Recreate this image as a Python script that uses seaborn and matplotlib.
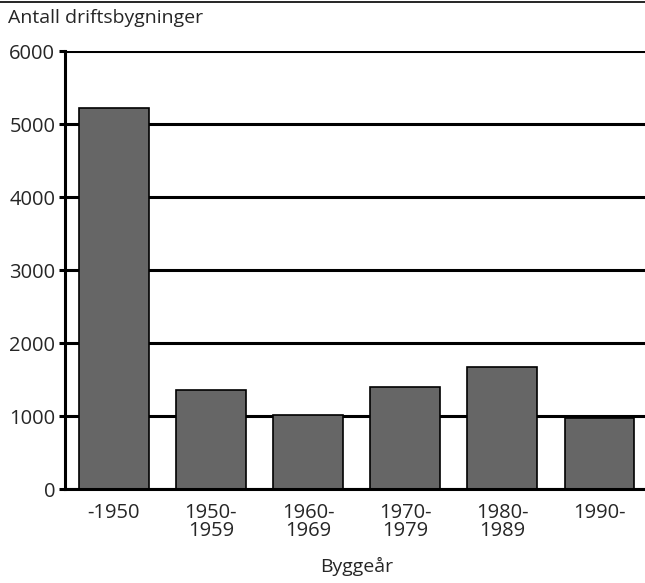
import matplotlib
matplotlib.use("Agg")
import matplotlib.pyplot as plt
import seaborn as sns
import pandas as pd
from matplotlib.lines import Line2D

# Data
periods = ["-1950", "1950-\n1959", "1960-\n1969", "1970-\n1979", "1980-\n1989", "1990-"]
counts = [5220, 1355, 1020, 1400, 1670, 975]

df = pd.DataFrame({"periode": periods, "antall": counts})

sns.set_theme(style="white")
plt.rcParams["font.family"] = ["Open Sans", "DejaVu Sans"]

fig = plt.figure(figsize=(6.45, 5.83), dpi=100)
ax = fig.add_axes([0.1008, 0.1612, 0.904, 0.7513])

sns.barplot(data=df, x="periode", y="antall", color="#666666",
            edgecolor="black", linewidth=1.2, width=0.72, saturation=1, ax=ax)

ax.set_ylim(0, 6000)
ax.set_xlim(-0.5, 5.5)
ax.set_yticks(range(0, 6001, 1000))
ax.yaxis.grid(True, color="black", linewidth=2.2)
ax.set_axisbelow(True)

for side in ["top", "right"]:
    ax.spines[side].set_visible(False)
ax.spines["left"].set_linewidth(2.2)
ax.spines["bottom"].set_linewidth(2.2)
ax.spines["left"].set_color("black")
ax.spines["bottom"].set_color("black")

ax.tick_params(axis="y", left=True, length=4, width=2.2, color="black",
               labelsize=14.5, pad=3)
ax.tick_params(axis="x", bottom=False, labelsize=14.5, pad=4)
for lab in ax.get_xticklabels():
    lab.set_linespacing(0.85)

ax.set_ylabel("")
ax.set_xlabel("Byggeår", fontsize=14, labelpad=12)

fig.text(0.012, 0.969, "Antall driftsbygninger", fontsize=14, va="center", ha="left")
fig.add_artist(Line2D([0, 1], [0.997, 0.997], transform=fig.transFigure,
                      color="black", linewidth=1.2))

fig.savefig("out.png", dpi=100)
